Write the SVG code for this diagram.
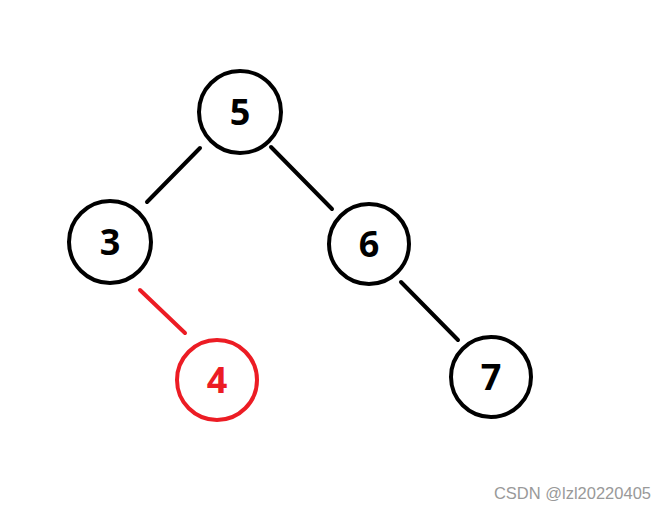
<svg xmlns="http://www.w3.org/2000/svg" width="666" height="510" viewBox="0 0 666 510">
<style>
.n{fill:#fff;stroke:#000;stroke-width:4}
.r{stroke:#ec1c24}
.t{font-family:"Noto Sans","Open Sans",sans-serif;font-weight:bold;font-size:36px;text-anchor:middle;fill:#000}
.tr{fill:#ec1c24}
.e{stroke:#000;stroke-width:4;stroke-linecap:round}
</style>
<rect width="666" height="510" fill="#fff"/>
<g id="edges">
<line class="e" x1="200" y1="148" x2="147" y2="202"/>
<line class="e" x1="271" y1="147" x2="332" y2="209"/>
<line class="e" x1="140" y1="290" x2="185" y2="333" style="stroke:#ec1c24"/>
<line class="e" x1="401" y1="282" x2="458" y2="340"/>
</g>
<g id="n5"><circle class="n" cx="240" cy="112" r="41"/><text class="t" x="240" y="125">5</text></g>
<g id="n3"><circle class="n" cx="110" cy="242" r="41"/><text class="t" x="110" y="255">3</text></g>
<g id="n6"><circle class="n" cx="369" cy="244" r="40"/><text class="t" x="369" y="257">6</text></g>
<g id="n4"><circle class="n r" cx="217" cy="380" r="40"/><text class="t tr" x="217" y="393">4</text></g>
<g id="n7"><circle class="n" cx="491" cy="377" r="40"/><text class="t" x="491" y="390">7</text></g>
<text x="651" y="499" style="font-family:'Liberation Sans',Arial,sans-serif;font-size:16.5px;fill:#999;text-anchor:end">CSDN @lzl20220405</text>
</svg>
